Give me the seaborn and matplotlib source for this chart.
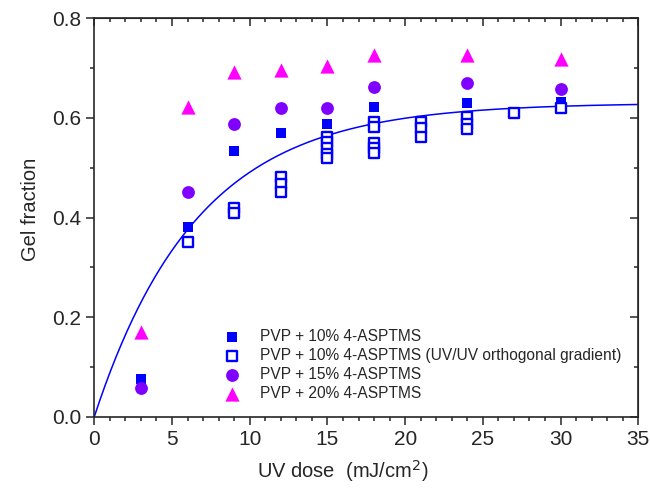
import numpy as np
import pandas as pd
import seaborn as sns
import matplotlib.pyplot as plt
from matplotlib.ticker import MultipleLocator

# data
dose = [3, 6, 9, 12, 15, 18, 24, 30]
gel_10 = [0.075, 0.380, 0.533, 0.570, 0.587, 0.621, 0.629, 0.632]
gel_15 = [0.058, 0.452, 0.588, 0.619, 0.620, 0.662, 0.670, 0.658]
gel_20 = [0.170, 0.621, 0.692, 0.696, 0.704, 0.726, 0.726, 0.719]

grad_dose = [6, 9, 9, 12, 12, 12, 15, 15, 15, 15, 15,
             18, 18, 18, 18, 18, 21, 21, 21, 24, 24, 24, 27, 30]
grad_gel = [0.350, 0.420, 0.410, 0.482, 0.467, 0.451, 0.562, 0.552, 0.540, 0.527, 0.519,
            0.592, 0.582, 0.549, 0.539, 0.529, 0.592, 0.579, 0.561, 0.601, 0.587, 0.577,
            0.610, 0.620]

# exponential fit y = A * (1 - exp(-k x))
fit_A = 0.630
fit_k = 0.151

labels = ["PVP + 10% 4-ASPTMS",
          "PVP + 10% 4-ASPTMS (UV/UV orthogonal gradient)",
          "PVP + 15% 4-ASPTMS",
          "PVP + 20% 4-ASPTMS"]

blue = "#0000FF"
purple = "#8000FF"
magenta = "#FF00FF"

sns.set_style("ticks")
plt.rcParams['font.family'] = ['Liberation Sans', 'DejaVu Sans']

fig = plt.figure(figsize=(6.5, 4.91), dpi=100)
ax = fig.add_axes([0.145, 0.151, 0.837, 0.812])

fit_x = np.linspace(0, 35, 300)
fit = pd.DataFrame({"x": fit_x, "y": fit_A * (1 - np.exp(-fit_k * fit_x))})
sns.lineplot(data=fit, x="x", y="y", ax=ax, color=blue, linewidth=1.1, legend=False)

sns.scatterplot(x=dose, y=gel_10, ax=ax, marker="s", s=60, color=blue,
                edgecolor=blue, linewidth=0, label=labels[0], zorder=3)
sns.scatterplot(x=grad_dose, y=grad_gel, ax=ax, marker="s", s=50, facecolor="white",
                edgecolor=blue, linewidth=1.7, label=labels[1], zorder=3)
sns.scatterplot(x=dose, y=gel_15, ax=ax, marker="o", s=85, color=purple,
                edgecolor=purple, linewidth=0, label=labels[2], zorder=3)
sns.scatterplot(x=dose, y=gel_20, ax=ax, marker="^", s=105, color=magenta,
                edgecolor=magenta, linewidth=0, label=labels[3], zorder=3)

ax.set_xlim(0, 35)
ax.set_ylim(0, 0.8)
ax.xaxis.set_major_locator(MultipleLocator(5))
ax.xaxis.set_minor_locator(MultipleLocator(1))
ax.yaxis.set_major_locator(MultipleLocator(0.2))
ax.yaxis.set_minor_locator(MultipleLocator(0.1))
ax.yaxis.set_major_formatter(plt.FormatStrFormatter("%.1f"))

ax.tick_params(which="major", direction="out", length=6, width=1.1, labelsize=15)
ax.tick_params(which="minor", direction="out", length=3, width=1.1)
for sp in ax.spines.values():
    sp.set_linewidth(1.2)
    sp.set_visible(True)

# inward ticks on top and right
top = ax.secondary_xaxis("top")
top.xaxis.set_major_locator(MultipleLocator(5))
top.xaxis.set_minor_locator(MultipleLocator(1))
top.tick_params(which="major", direction="in", length=6, width=1.1, labeltop=False)
top.tick_params(which="minor", direction="in", length=3, width=1.1)
right = ax.secondary_yaxis("right")
right.yaxis.set_major_locator(MultipleLocator(0.2))
right.yaxis.set_minor_locator(MultipleLocator(0.1))
right.tick_params(which="major", direction="in", length=6, width=1.1, labelright=False)
right.tick_params(which="minor", direction="in", length=3, width=1.1)

ax.set_xlabel("UV dose  (mJ/cm$^2$)", fontsize=14.5)
ax.set_ylabel("Gel fraction", fontsize=14.5)
ax.xaxis.set_label_coords(0.456, -0.103)
ax.yaxis.set_label_coords(-0.1, 0.52)

ax.legend(loc="lower left", bbox_to_anchor=(0.216, 0.012), frameon=False, fontsize=11.2,
          handletextpad=1.2, labelspacing=0.26, borderaxespad=0.3, handlelength=1.2)

fig.savefig("out.png", dpi=100)
